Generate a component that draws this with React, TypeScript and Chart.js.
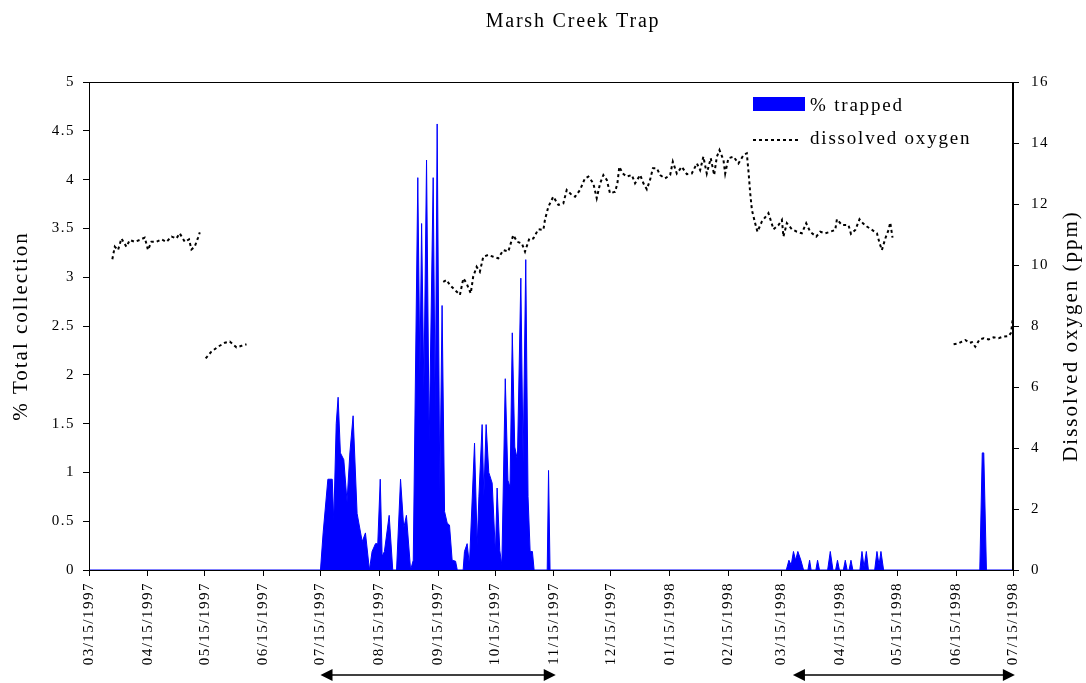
import React, { useEffect, useRef } from "react";
import { Chart, registerables } from "chart.js";

Chart.register(...registerables);

const chartTitle = "Marsh Creek Trap";
const leftAxisTitle = "% Total collection";
const rightAxisTitle = "Dissolved oxygen (ppm)";
const trappedLabel = "% trapped";
const oxygenLabel = "dissolved oxygen";

// x axis: days since 03/15/1997
const tickDays = [0, 31, 61, 92, 122, 153, 184, 214, 245, 275, 306, 337, 365, 396, 426, 457, 487];
const tickLabels = [
  "03/15/1997", "04/15/1997", "05/15/1997", "06/15/1997", "07/15/1997", "08/15/1997",
  "09/15/1997", "10/15/1997", "11/15/1997", "12/15/1997", "01/15/1998", "02/15/1998",
  "03/15/1998", "04/15/1998", "05/15/1998", "06/15/1998", "07/15/1998",
];

const trappedDays = [
  0, 122, 123.4, 125.9, 128.2, 129, 130.3, 131.3, 132.5, 134.3, 136, 137.5, 139.2, 141.3, 144,
  145.7, 147.8, 149.2, 151, 152.2, 153.5, 154.5, 155.7, 158.2, 160.1, 162.1, 164.2, 165.9, 167.3,
  169.5, 170.9, 173.3, 174.4, 175.3, 176.5, 177.9, 179.3, 181.4, 182.5, 183.5, 184.9, 186.1, 187.4,
  188.8, 190, 191.4, 193.2, 194.1, 197.2, 197.9, 199.3, 200.5, 203.2, 204.6, 205.5, 207.2, 208.1,
  209.3, 210.7, 212.5, 214.2, 215.1, 216.5, 217.6, 219.4, 220.8, 221.9, 223.1, 224.4, 225.8, 227.6,
  228.8, 230.2, 231.4, 232.5, 233.7, 234.6, 241.5, 242.2, 243,
  367.5, 368.9, 370.1, 371.3, 372.4, 373.6, 375.2, 376.6,
  378.9, 379.8, 380.6, 383.1, 384, 385, 389.3, 390.7, 392.1, 393.5, 394.5, 395.5,
  397.6, 398.6, 399.6, 400.6, 401.6, 402.6, 406.3, 407.4, 408.5, 409.7, 410.8,
  414.1, 415.3, 416.4, 417.4, 418.8, 469.5, 470.8, 471.6, 473, 487,
];
const trappedValues = [
  0, 0, 0.38, 0.93, 0.93, 0.5, 1.5, 1.77, 1.2, 1.13, 0.7, 1.2, 1.58, 0.58, 0.29,
  0.38, 0, 0.19, 0.27, 0.27, 0.93, 0.14, 0.19, 0.56, 0, 0, 0.93, 0.43, 0.56,
  0, 0.1, 4.02, 2.0, 3.55, 1.85, 4.2, 1.3, 4.02, 1.6, 4.57, 0.8, 2.71, 0.6,
  0.48, 0.46, 0.1, 0.09, 0, 0, 0.19, 0.27, 0.05, 1.3, 0.25, 0.75, 1.49, 0.75,
  1.49, 1.0, 0.89, 0.17, 0.84, 0.2, 0.05, 1.96, 0.92, 0.85, 2.43, 1.26, 1.13, 2.99,
  1.1, 3.18, 0.75, 0.19, 0.19, 0, 0, 1.02, 0,
  0, 0.1, 0.05, 0.19, 0.1, 0.19, 0.1, 0,
  0, 0.1, 0, 0, 0.1, 0, 0, 0.19, 0, 0, 0.1, 0,
  0, 0.1, 0, 0, 0.1, 0, 0, 0.19, 0.03, 0.19, 0,
  0, 0.19, 0.05, 0.19, 0, 0, 1.2, 1.2, 0, 0,
];

const oxygenDays = [
  12.3, 13.6, 15.3, 17.1, 19.7, 21.5, 24.1, 26.7, 29.4, 31.1, 32.9, 35.5, 38.2, 40.8, 43.5, 46.1,
  47.8, 50.5, 52.7, 54.0, 55.7, 57.5, 58.4, 60,
  61.5, 64.5, 68, 71.6, 74.2, 77.7, 80.4, 83, 100,
  186.7, 188.5, 190.2, 192.9, 195.5, 197.3, 199, 201.2, 202.5, 204.3, 206, 207.8, 210.4, 213.1,
  215.7, 218.4, 221, 223.6, 225.7, 228.1, 229.8, 232.1, 234.2, 236.8, 239.5, 240.3, 242.1, 244.7,
  247.4, 250, 251.8, 254.4, 256.2, 258.8, 261.4, 263.2, 265.8, 267.6, 269.4, 271.1, 272.9, 274.6,
  277.3, 278.5, 279.5, 281.3, 283.4, 286.1, 287.8, 290.5, 292.2, 294, 295.7, 297.2, 299.3, 301,
  303.6, 306.3, 307.7, 309.8, 312.4, 315.1, 317.7, 320.4, 322.1, 323.8, 325.6, 327.7, 329.5, 330.9,
  332.3, 334.4, 335.3, 337, 339.7, 342.3, 345, 346.7, 347.6, 348.5, 349.4, 351.1, 352.3, 354.6,
  358.1, 360.8, 363.4, 365.2, 366, 367.8, 370.5, 373.1, 375.7, 378, 380.1, 383.3, 385.4, 388,
  390.7, 393.3, 394.2, 396.8, 400.3, 401.6, 403.9, 406.1, 407.9, 410, 412.7, 415.3, 416.7, 417.9,
  419.7, 421.4, 422.3, 423.5, 440,
  455.7, 458.3, 460.1, 461.9, 464.1, 465.4, 467.1, 469.4, 471.5, 474.2, 476.8, 479.4, 481.8, 484.7,
  486, 486.6, 487,
];
const oxygenValues = [
  10.19, 10.6, 10.49, 10.87, 10.6, 10.82, 10.76, 10.82, 10.9, 10.49, 10.76, 10.76, 10.84, 10.76, 10.93, 10.87,
  11.04, 10.76, 10.84, 10.51, 10.6, 10.9, 11.07, null,
  6.94, 7.16, 7.32, 7.45, 7.49, 7.3, 7.35, 7.4, null,
  9.45, 9.51, 9.34, 9.18, 9.02, 9.56, 9.4, 9.07, 9.62, 9.94, 9.78, 10.27, 10.33, 10.27,
  10.22, 10.49, 10.44, 10.98, 10.76, 10.71, 10.44, 10.87, 10.87, 11.17, 11.15, 11.48, 11.91, 12.24,
  11.97, 12.02, 12.46, 12.3, 12.24, 12.46, 12.84, 12.9, 12.68, 12.19, 12.68, 12.95, 12.79, 12.35,
  12.4, 12.68, 13.22, 13.0, 12.9, 12.95, 12.68, 12.95, 12.68, 12.48, 12.79, 13.17, 13.17, 12.95,
  12.84, 12.95, 13.39, 13.0, 13.22, 12.98, 13.0, 13.33, 13.11, 13.55, 13.0, 13.5, 12.95, 13.55,
  13.77, 13.44, 13.0, 13.5, 13.55, 13.33, 13.61, 13.66, 13.06, 12.35, 11.8, 11.37, 11.09, 11.42,
  11.7, 11.17, 11.31, 11.48, 10.93, 11.37, 11.17, 11.09, 11.04, 11.37, 11.09, 10.93, 11.09, 11.04,
  11.09, 11.15, 11.5, 11.31, 11.31, 11.02, 11.15, 11.5, 11.37, 11.26, 11.15, 11.04, 10.71, 10.49,
  10.87, 11.15, 11.39, 10.9, null,
  7.4, 7.43, 7.49, 7.54, 7.45, 7.47, 7.32, 7.56, 7.6, 7.56, 7.63, 7.6, 7.65, 7.67,
  7.78, 8.1, 8.3,
];

// sampling periods marked by arrows under the axis (days)
const periodStarts = [122, 371];
const periodEnds = [246, 488];

const FONT = '"Liberation Serif", "Times New Roman", serif';

const decorPlugin = {
  id: "decor",
  beforeUpdate(chart: any) {
    chart.ctx.letterSpacing = "1.5px";
  },
  beforeDraw(chart: any) {
    const ctx = chart.ctx;
    ctx.save();
    ctx.fillStyle = "#fff";
    ctx.fillRect(0, 0, chart.width, chart.height);
    ctx.restore();
    ctx.letterSpacing = "1.5px";
  },
  afterDraw(chart: any) {
    const { ctx, chartArea: a, scales } = chart;
    ctx.save();
    // frame
    ctx.strokeStyle = "#000";
    ctx.lineWidth = 1;
    ctx.setLineDash([]);
    ctx.strokeRect(Math.round(a.left) + 0.5, Math.round(a.top) + 0.5, Math.round(a.right - a.left) - 1, Math.round(a.bottom - a.top));

    ctx.fillStyle = "#000";
    // title
    ctx.font = `20px ${FONT}`;
    ctx.letterSpacing = "1.8px";
    ctx.textAlign = "center";
    ctx.textBaseline = "alphabetic";
    ctx.fillText(chartTitle, 573, 27);

    // axis titles
    const midY = (a.top + a.bottom) / 2;
    ctx.font = `21px ${FONT}`;
    ctx.letterSpacing = "2px";
    ctx.textBaseline = "middle";
    ctx.save();
    ctx.translate(21, midY);
    ctx.rotate(-Math.PI / 2);
    ctx.fillText(leftAxisTitle, 0, 0);
    ctx.restore();
    ctx.save();
    ctx.translate(1071, midY + 10);
    ctx.rotate(-Math.PI / 2);
    ctx.fillText(rightAxisTitle, 0, 0);
    ctx.restore();

    // legend
    ctx.fillStyle = "#0000FF";
    ctx.fillRect(753, 97, 52, 14);
    ctx.fillStyle = "#000";
    ctx.font = `19px ${FONT}`;
    ctx.textAlign = "left";
    ctx.textBaseline = "alphabetic";
    ctx.letterSpacing = "1.8px";
    ctx.fillText(trappedLabel, 810, 111);
    ctx.fillText(oxygenLabel, 810, 144);
    ctx.strokeStyle = "#000";
    ctx.lineWidth = 2;
    ctx.setLineDash([3, 3]);
    ctx.beginPath();
    ctx.moveTo(753, 140);
    ctx.lineTo(801, 140);
    ctx.stroke();
    ctx.setLineDash([]);

    // arrows
    const xs = scales.x;
    const ay = 675;
    ctx.strokeStyle = "#000";
    ctx.fillStyle = "#000";
    ctx.lineWidth = 1.6;
    for (let i = 0; i < periodStarts.length; i++) {
      const x0 = xs.getPixelForValue(periodStarts[i]);
      const x1 = xs.getPixelForValue(periodEnds[i]);
      ctx.beginPath();
      ctx.moveTo(x0 + 10, ay);
      ctx.lineTo(x1 - 10, ay);
      ctx.stroke();
      ctx.beginPath();
      ctx.moveTo(x0, ay);
      ctx.lineTo(x0 + 12, ay - 6);
      ctx.lineTo(x0 + 12, ay + 6);
      ctx.closePath();
      ctx.fill();
      ctx.beginPath();
      ctx.moveTo(x1, ay);
      ctx.lineTo(x1 - 12, ay - 6);
      ctx.lineTo(x1 - 12, ay + 6);
      ctx.closePath();
      ctx.fill();
    }
    ctx.restore();
    ctx.letterSpacing = "1.5px";
  },
};

const plainNumber = (value: any) => String(Math.round(Number(value) * 100) / 100);

export default function App() {
  const canvasRef = useRef<HTMLCanvasElement | null>(null);

  useEffect(() => {
    const canvas = canvasRef.current;
    if (!canvas) return;
    Chart.defaults.font.family = FONT;
    Chart.defaults.color = "#000";

    const trappedData = trappedDays.map((d, i) => ({ x: d, y: trappedValues[i] }));
    const oxygenData = oxygenDays.map((d, i) => ({ x: d, y: oxygenValues[i] }));

    const axisGrid = {
      display: true,
      drawOnChartArea: false,
      drawTicks: true,
      tickLength: 6,
      color: "#000",
      lineWidth: 1,
    };

    const chart = new Chart(canvas, {
      type: "line",
      data: {
        datasets: [
          {
            label: oxygenLabel,
            data: oxygenData,
            yAxisID: "y1",
            borderColor: "#000",
            borderWidth: 2,
            borderDash: [3, 3],
            pointRadius: 0,
            fill: false,
            spanGaps: false,
            tension: 0,
            order: 0,
          },
          {
            label: trappedLabel,
            data: trappedData,
            yAxisID: "y",
            borderColor: "#0000FF",
            backgroundColor: "#0000FF",
            borderWidth: 1,
            pointRadius: 0,
            fill: "origin",
            tension: 0,
            order: 1,
          },
        ],
      },
      options: {
        responsive: false,
        animation: false,
        events: [],
        layout: { padding: { top: 82, left: 0, right: 0, bottom: 0 } },
        plugins: {
          legend: { display: false },
          title: { display: false },
          tooltip: { enabled: false },
        },
        scales: {
          x: {
            type: "linear",
            min: 0,
            max: 487,
            afterBuildTicks: (scale: any) => {
              scale.ticks = tickDays.map((v) => ({ value: v }));
            },
            afterFit: (scale: any) => {
              scale.height = 113;
              scale.paddingLeft = 0;
              scale.paddingRight = 0;
            },
            ticks: {
              autoSkip: false,
              maxRotation: 90,
              minRotation: 90,
              padding: 6,
              font: { size: 15 },
              color: "#000",
              callback: (value: any) => {
                const idx = tickDays.indexOf(Number(value));
                return idx >= 0 ? tickLabels[idx] : "";
              },
            },
            grid: axisGrid,
            border: { display: true, color: "#000", width: 1 },
          },
          y: {
            type: "linear",
            position: "left",
            min: 0,
            max: 5,
            afterFit: (scale: any) => {
              scale.width = 89;
              scale.paddingTop = 0;
              scale.paddingBottom = 0;
            },
            ticks: { stepSize: 0.5, padding: 8, font: { size: 15 }, color: "#000", callback: plainNumber },
            grid: axisGrid,
            border: { display: true, color: "#000", width: 1 },
          },
          y1: {
            type: "linear",
            position: "right",
            min: 0,
            max: 16,
            afterFit: (scale: any) => {
              scale.width = 73;
              scale.paddingTop = 0;
              scale.paddingBottom = 0;
            },
            ticks: { stepSize: 2, padding: 12, font: { size: 15 }, color: "#000", callback: plainNumber },
            grid: axisGrid,
            border: { display: true, color: "#000", width: 1 },
          },
        },
      },
      plugins: [decorPlugin],
    });

    return () => {
      chart.destroy();
    };
  }, []);

  return (
    <div style={{ position: "fixed", left: 0, top: 0, width: 1086, height: 683, background: "#fff" }}>
      <canvas ref={canvasRef} width={1086} height={683} style={{ display: "block" }} />
    </div>
  );
}
